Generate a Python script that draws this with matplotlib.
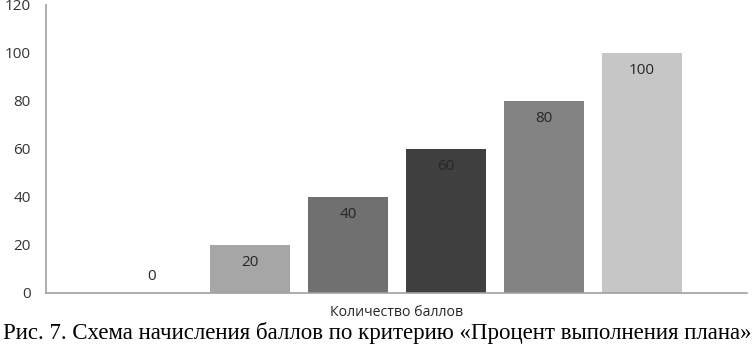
import matplotlib
matplotlib.use("Agg")
import matplotlib.pyplot as plt

values = [0, 20, 40, 60, 80, 100]
labels = ["0", "20", "40", "60", "80", "100"]
colors = ["#bfbfbf", "#a6a6a6", "#707070", "#404040", "#838383", "#c6c6c6"]
yticks = [0, 20, 40, 60, 80, 100, 120]
xlabel = "Количество баллов"
caption = "Рис. 7. Схема начисления баллов по критерию «Процент выполнения плана»"

fig = plt.figure(figsize=(7.53, 3.51), dpi=100)
W, H = 753, 351
ax = fig.add_axes([46 / W, 1 - 293 / H, (747 - 46) / W, (293 - 5) / H])

x = list(range(len(values)))
ax.bar(x, values, width=0.815, color=colors)
ax.set_xlim(-1.08, 6.07)
ax.set_ylim(0, 120)
ax.set_yticks(yticks)
ax.set_xticks([])
ax.tick_params(axis="y", length=0, pad=11, labelsize=11, labelcolor="#333333")
for lab in ax.get_yticklabels():
    lab.set_fontfamily("Open Sans")
for s in ["top", "right"]:
    ax.spines[s].set_visible(False)
for s in ["left", "bottom"]:
    ax.spines[s].set_color("#a0a0a0")
    ax.spines[s].set_linewidth(1.2)

for xi, v, t in zip(x, values, labels):
    off = -18 if v > 0 else 16
    ax.annotate(t, (xi, v), xytext=(0, off), textcoords="offset pixels",
                ha="center", va="center", fontsize=11, color="#262626",
                family="Open Sans")

fig.text(397 / W, 1 - 313 / H, xlabel, ha="center", va="center",
         fontsize=10.2, color="#262626", family="Open Sans")
fig.text(377 / W, 1 - 333 / H, caption, ha="center", va="center",
         fontsize=16.5, color="black", family="Liberation Serif")

fig.savefig("out.png", dpi=100)
